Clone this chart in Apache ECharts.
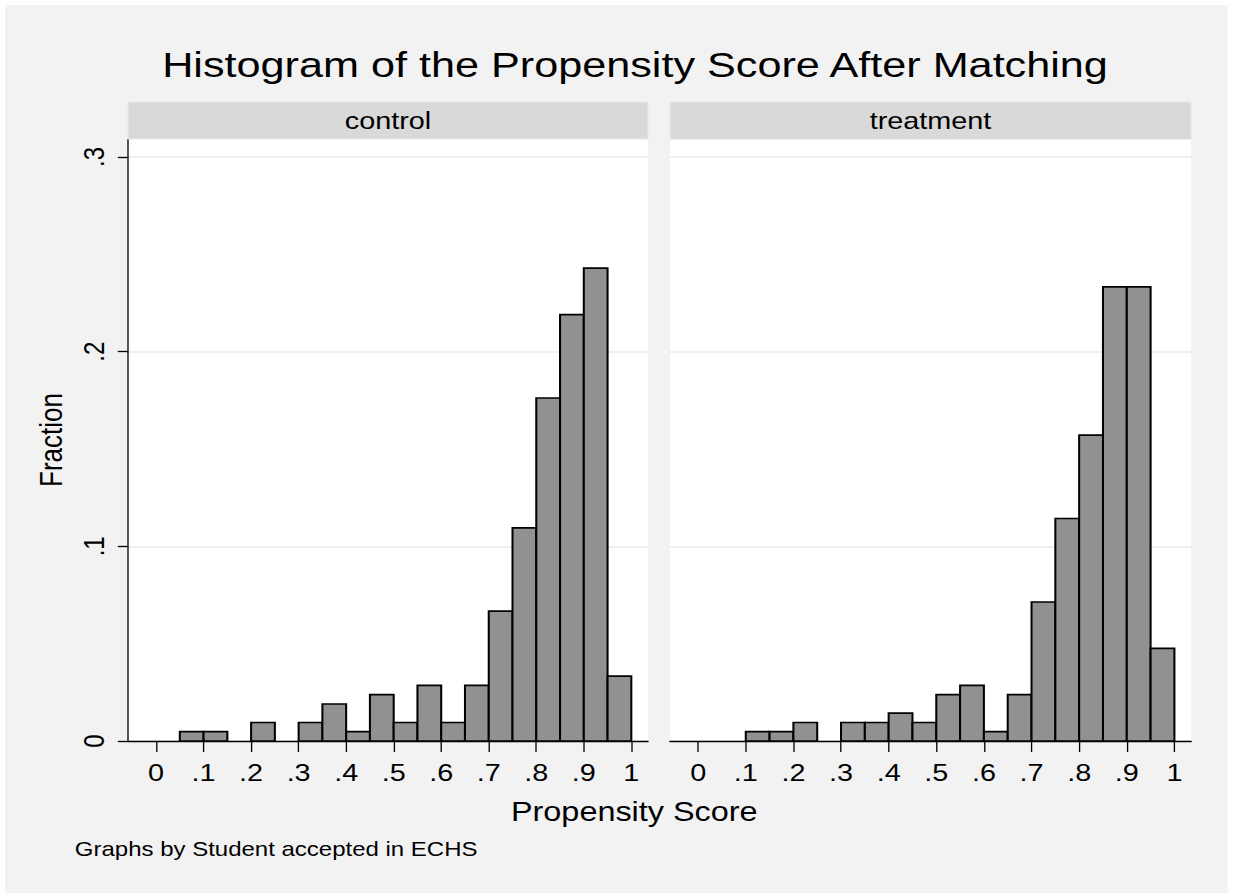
<!DOCTYPE html>
<html>
<head>
<meta charset="utf-8">
<title>Histogram of the Propensity Score After Matching</title>
<style>
  html, body { margin: 0; padding: 0; background: #ffffff; width: 1233px; height: 894px; overflow: hidden; }
  #wrap { position: absolute; left: 5px; top: 5px; width: 1019px; height: 888px; transform: scaleX(1.2); transform-origin: 0 0; }
  #chart { width: 1019px; height: 888px; }
</style>
<script src="https://cdn.jsdelivr.net/npm/echarts@6/dist/echarts.min.js"></script>
</head>
<body>
<div id="wrap"><div id="chart"></div></div>
<script>
// ---------- data ----------
const panelNames = ['control', 'treatment'];
const binStart = [0, 0.05, 0.10, 0.15, 0.20, 0.25, 0.30, 0.35, 0.40, 0.45,
                  0.50, 0.55, 0.60, 0.65, 0.70, 0.75, 0.80, 0.85, 0.90, 0.95];
const binWidth = 0.05;
const controlFraction = [0, 0.0048, 0.0048, 0, 0.0095, 0, 0.0095, 0.0190, 0.0048, 0.0238,
                         0.0095, 0.0286, 0.0095, 0.0286, 0.0667, 0.1095, 0.1762, 0.2190, 0.2429, 0.0333];
const treatmentFraction = [0, 0, 0.0048, 0.0048, 0.0095, 0, 0.0095, 0.0095, 0.0143, 0.0095,
                           0.0238, 0.0286, 0.0048, 0.0238, 0.0714, 0.1143, 0.1571, 0.2333, 0.2333, 0.0476];
const xTickValues = [0, 0.1, 0.2, 0.3, 0.4, 0.5, 0.6, 0.7, 0.8, 0.9, 1];
const yTickValues = [0, 0.1, 0.2, 0.3];

// ---------- helpers ----------
const FONT = "'Liberation Sans', Arial, Helvetica, sans-serif";
function stataNum(v) {
  if (Math.abs(v) < 1e-9) return '0';
  if (Math.abs(v - 1) < 1e-9) return '1';
  return v.toFixed(1).replace(/^0/, '');
}
function histData(fr) {
  return binStart.map((s, i) => [s, s + binWidth, fr[i]]);
}
function renderBar(params, api) {
  const y = api.value(2);
  if (!y) return null;
  const p0 = api.coord([api.value(0), y]);
  const p1 = api.coord([api.value(1), 0]);
  return {
    type: 'rect',
    shape: { x: p0[0], y: p0[1], width: p1[0] - p0[0], height: p1[1] - p0[1] },
    style: { fill: '#919191', stroke: '#000000', lineWidth: 1.7 }
  };
}

// ---------- layout (chart-local, unscaled px) ----------
const grids = [
  { left: 102.5, top: 134, width: 433.3, height: 602 },
  { left: 554.2, top: 134, width: 434.2, height: 602 }
];
const yMax = 0.30925;
const xMin = -0.059, xMax = 1.035;

function xAxisFor(i) {
  return {
    type: 'value', gridIndex: i, min: xMin, max: xMax,
    axisLine: { show: true, onZero: false, lineStyle: { color: '#000', width: 1.4 } },
    axisTick: { show: true, length: 11, customValues: xTickValues, lineStyle: { color: '#000', width: 1.1 } },
    axisLabel: { customValues: xTickValues, formatter: stataNum, margin: 20, fontSize: 24, color: '#000', fontFamily: FONT },
    splitLine: { show: false }
  };
}
function yAxisFor(i) {
  const base = {
    type: 'value', gridIndex: i, min: 0, max: yMax, interval: 0.1,
    splitLine: { show: true, lineStyle: { color: '#eaeaea', width: 1.6 } }
  };
  if (i === 0) {
    return Object.assign(base, {
      axisLine: { show: true, onZero: false, lineStyle: { color: '#000', width: 1.1 } },
      axisTick: { show: true, length: 8.5, customValues: yTickValues, lineStyle: { color: '#000', width: 1.3 } },
      axisLabel: { customValues: yTickValues, rotate: 90, formatter: stataNum, margin: 16, fontSize: 24, color: '#000', fontFamily: FONT },
      name: 'Fraction', nameLocation: 'middle', nameRotate: 90, nameGap: 51,
      nameTextStyle: { fontSize: 26, color: '#000', fontFamily: FONT }
    });
  }
  return Object.assign(base, {
    axisLine: { show: false }, axisTick: { show: false }, axisLabel: { show: false }
  });
}

const headerGraphics = [];
grids.forEach((g, i) => {
  headerGraphics.push({
    type: 'rect', z: 10,
    shape: { x: g.left, y: 97, width: g.width, height: 37 },
    style: { fill: '#d9d9d9', stroke: '#e3eaec', lineWidth: 1 }
  });
  headerGraphics.push({
    type: 'text', z: 11, x: g.left + g.width / 2, y: 115.5,
    style: { text: panelNames[i], fontSize: 24, fontFamily: FONT, fill: '#000', align: 'center', verticalAlign: 'middle' }
  });
});

const chart = echarts.init(document.getElementById('chart'), null, { renderer: 'svg' });
chart.setOption({
  backgroundColor: '#f2f2f2',
  animation: false,
  grid: grids.map(g => Object.assign({ show: true, backgroundColor: '#ffffff', borderWidth: 0 }, g)),
  xAxis: [xAxisFor(0), xAxisFor(1)],
  yAxis: [yAxisFor(0), yAxisFor(1)],
  series: [
    { name: panelNames[0], type: 'custom', xAxisIndex: 0, yAxisIndex: 0, renderItem: renderBar,
      encode: { x: [0, 1], y: 2 }, data: histData(controlFraction) },
    { name: panelNames[1], type: 'custom', xAxisIndex: 1, yAxisIndex: 1, renderItem: renderBar,
      encode: { x: [0, 1], y: 2 }, data: histData(treatmentFraction) }
  ],
  graphic: headerGraphics.concat([
    { type: 'text', x: 525, y: 59.5,
      style: { text: 'Histogram of the Propensity Score After Matching', fontSize: 36, fontFamily: FONT, fill: '#000', align: 'center', verticalAlign: 'middle' } },
    { type: 'text', x: 524.4, y: 806.7,
      style: { text: 'Propensity Score', fontSize: 27, fontFamily: FONT, fill: '#000', align: 'center', verticalAlign: 'middle' } },
    { type: 'text', x: 58.2, y: 844.7,
      style: { text: 'Graphs by Student accepted in ECHS', fontSize: 20, fontFamily: FONT, fill: '#000', align: 'left', verticalAlign: 'middle' } }
  ])
});
</script>
</body>
</html>
